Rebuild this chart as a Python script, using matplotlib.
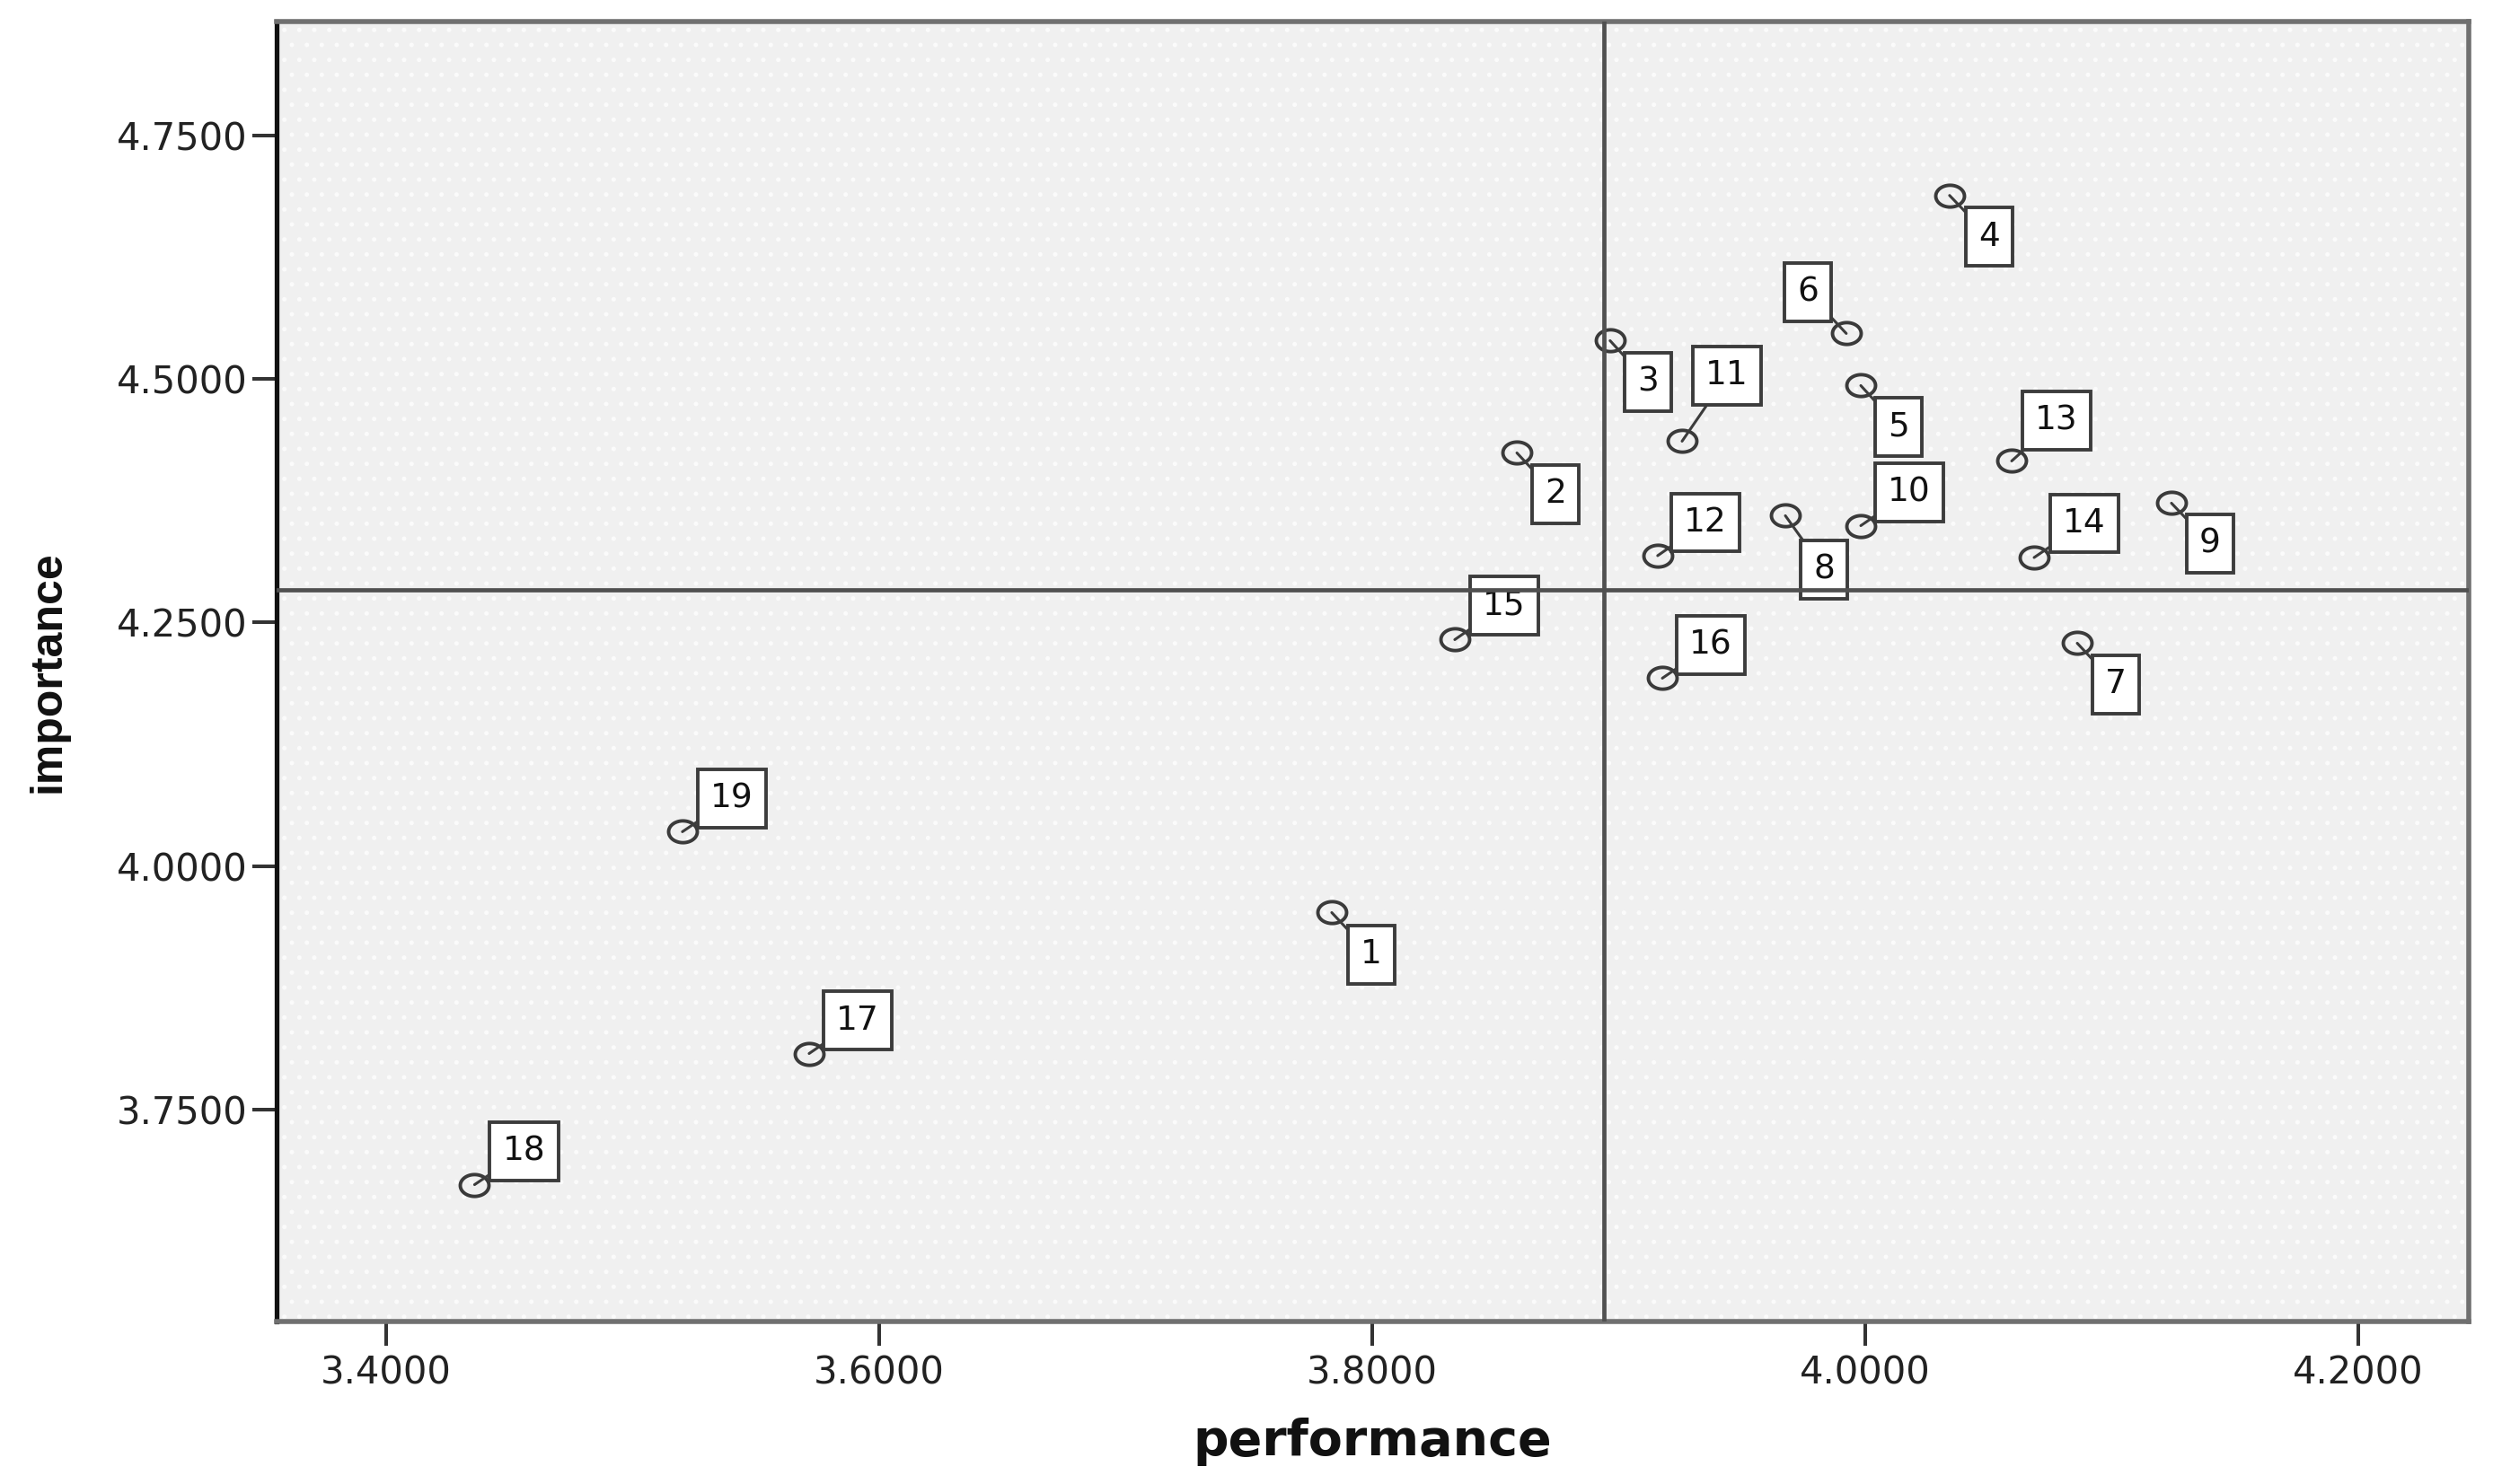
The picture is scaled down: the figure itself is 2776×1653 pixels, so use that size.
import numpy as np
import matplotlib
matplotlib.use('Agg')
import matplotlib.pyplot as plt
from matplotlib.path import Path
from matplotlib.patches import Rectangle

# ---------------- data ----------------
labels = [str(i) for i in range(1, 20)]
performance = [3.7836, 3.8587, 3.8965, 4.0342, 3.9982, 3.9923, 4.0860, 3.9676,
               4.1242, 3.9982, 3.9257, 3.9158, 4.0594, 4.0685, 3.8335, 3.9177,
               3.5716, 3.4359, 3.5202]
importance = [3.9523, 4.4242, 4.5394, 4.6885, 4.4933, 4.5468, 4.2288, 4.3597,
              4.3726, 4.3495, 4.4362, 4.3187, 4.4159, 4.3168, 4.2325, 4.1929,
              3.8076, 3.6730, 4.0353]
x_ticks = [3.4, 3.6, 3.8, 4.0, 4.2]
y_ticks = [3.75, 4.0, 4.25, 4.5, 4.75]
x_label = 'performance'
y_label = 'importance'

# ---------------- layout / style ----------------
DPI = 200
PT = 72.0 / DPI  # pixels -> points

# label box centre offsets from the point, in pixels (dx right, dy down)
label_offsets_px = {
    '1': (44, 47), '2': (43, 46), '3': (42, 46), '4': (44, 46), '5': (42, 46),
    '6': (-43, -46), '7': (43, 46), '8': (43, 60), '9': (43, 45),
    '10': (54, -37), '11': (50, -73), '12': (53, -37), '13': (50, -45),
    '14': (56, -38), '15': (55, -38), '16': (54, -37), '17': (54, -37),
    '18': (55, -37), '19': (55, -37),
}

fig = plt.figure(figsize=(2776 / DPI, 1653 / DPI), dpi=DPI)
fig.patch.set_facecolor('white')
ax = fig.add_axes([308 / 2776, 1 - 1472 / 1653, (2749 - 308) / 2776, (1472 - 24) / 1653])
ax.set_facecolor('#f0f0f0')

# faint dotted texture of the plot area
plt.rcParams['hatch.linewidth'] = 0.6
ax.add_patch(Rectangle((0, 0), 1, 1, transform=ax.transAxes, facecolor='none',
                       edgecolor='#fbfbfb', hatch='..', linewidth=0, zorder=0.5))

ax.set_xlim(3.3556, 4.2448)
ax.set_ylim(3.5325, 4.867)

# ellipse marker (the original picture is horizontally stretched)
th = np.linspace(0, 2 * np.pi, 80)
ellipse = Path(np.column_stack([np.cos(th), 0.76 * np.sin(th)]), closed=True)

ax.plot(performance, importance, linestyle='none', marker=ellipse, markersize=11.5,
        markerfacecolor='none', markeredgecolor='#3a3a3a', markeredgewidth=1.4, zorder=3)

for lab, xv, yv in zip(labels, performance, importance):
    dx, dy = label_offsets_px[lab]
    ax.annotate(lab, xy=(xv, yv), xytext=(dx * PT, -dy * PT), textcoords='offset points',
                ha='center', va='center', fontsize=13.5, family='DejaVu Sans', color='#111111',
                bbox=dict(boxstyle='square,pad=0.38', fc='white', ec='#3c3c3c', lw=1.4),
                arrowprops=dict(arrowstyle='-', color='#3c3c3c', lw=1.1, shrinkA=0, shrinkB=0),
                zorder=4)

# mean reference lines
ax.axvline(np.mean(performance), color='#505050', lw=1.7, zorder=5)
ax.axhline(np.mean(importance), color='#505050', lw=1.7, zorder=5)

ax.set_xticks(x_ticks)
ax.set_yticks(y_ticks)
ax.set_xticklabels([f'{v:.4f}' for v in x_ticks])
ax.set_yticklabels([f'{v:.4f}' for v in y_ticks])
ax.tick_params(axis='both', direction='out', length=9.7, width=1.45, color='#333333',
               labelsize=15, labelcolor='#222222')
ax.tick_params(axis='x', pad=3.6)
ax.tick_params(axis='y', pad=1.8)
for t in ax.get_xticklabels() + ax.get_yticklabels():
    t.set_family('DejaVu Sans')

for side in ['top', 'right', 'bottom']:
    ax.spines[side].set_color('#707070')
    ax.spines[side].set_linewidth(2.0)
ax.spines['left'].set_color('#111111')
ax.spines['left'].set_linewidth(1.9)

ax.set_xlabel(x_label, family='DejaVu Sans', fontweight='bold', fontsize=20, color='#111111')
ax.set_ylabel(y_label, family='Liberation Sans', fontweight='bold', fontsize=18, color='#111111')
ax.xaxis.set_label_coords(0.5, -0.074)
ax.yaxis.set_label_coords(-0.095, 0.5)

fig.savefig('out.png', dpi=DPI, facecolor='white')
